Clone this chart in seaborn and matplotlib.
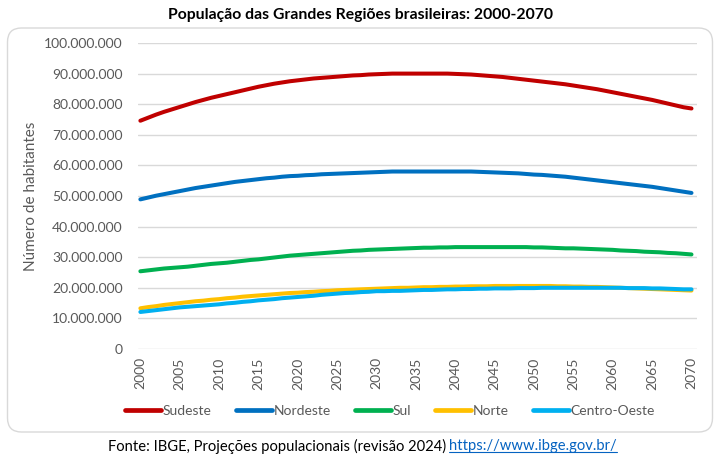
import matplotlib
matplotlib.use("Agg")
import matplotlib.pyplot as plt
import numpy as np
import pandas as pd
import seaborn as sns
from matplotlib.patches import FancyBboxPatch
from matplotlib.lines import Line2D
from matplotlib.transforms import IdentityTransform
from matplotlib.ticker import FuncFormatter

years = list(range(2000, 2071))

# values in millions of inhabitants
sudeste = [74.6, 75.6, 76.6, 77.5, 78.3, 79.1, 79.9, 80.7, 81.4, 82.1,
           82.7, 83.3, 83.9, 84.5, 85.1, 85.7, 86.2, 86.7, 87.1, 87.5,
           87.8, 88.1, 88.4, 88.6, 88.8, 89.0, 89.2, 89.4, 89.5, 89.7,
           89.8, 89.9, 90.0, 90.0, 90.0, 90.0, 90.0, 90.0, 90.0, 90.0,
           89.9, 89.8, 89.7, 89.5, 89.3, 89.1, 88.9, 88.6, 88.3, 88.0,
           87.7, 87.4, 87.1, 86.8, 86.5, 86.1, 85.7, 85.3, 84.9, 84.4,
           83.9, 83.4, 82.9, 82.4, 81.9, 81.4, 80.8, 80.2, 79.6, 79.0,
           78.6]
nordeste = [48.9, 49.5, 50.1, 50.6, 51.1, 51.6, 52.1, 52.6, 53.0, 53.4,
            53.8, 54.2, 54.6, 54.9, 55.2, 55.5, 55.8, 56.0, 56.3, 56.5,
            56.6, 56.8, 56.9, 57.1, 57.2, 57.3, 57.4, 57.5, 57.6, 57.7,
            57.8, 57.9, 58.0, 58.0, 58.0, 58.0, 58.0, 58.0, 58.0, 58.0,
            58.0, 58.0, 58.0, 57.9, 57.8, 57.7, 57.6, 57.5, 57.4, 57.2,
            57.0, 56.9, 56.7, 56.5, 56.3, 56.0, 55.7, 55.4, 55.1, 54.8,
            54.5, 54.2, 53.9, 53.6, 53.3, 53.0, 52.6, 52.2, 51.8, 51.4,
            51.0]
sul = [25.4, 25.7, 26.0, 26.3, 26.5, 26.7, 26.9, 27.2, 27.5, 27.8,
       28.0, 28.2, 28.5, 28.8, 29.1, 29.3, 29.6, 29.9, 30.2, 30.5,
       30.7, 30.9, 31.1, 31.3, 31.5, 31.7, 31.9, 32.1, 32.2, 32.4,
       32.5, 32.6, 32.7, 32.8, 32.9, 33.0, 33.1, 33.1, 33.2, 33.2,
       33.3, 33.3, 33.3, 33.3, 33.3, 33.3, 33.3, 33.3, 33.3, 33.3,
       33.2, 33.2, 33.1, 33.0, 32.9, 32.9, 32.8, 32.7, 32.6, 32.5,
       32.4, 32.2, 32.1, 32.0, 31.8, 31.7, 31.6, 31.4, 31.3, 31.1,
       30.9]
norte = [13.3, 13.7, 14.0, 14.4, 14.7, 15.0, 15.3, 15.6, 15.8, 16.1,
         16.3, 16.6, 16.8, 17.1, 17.3, 17.5, 17.7, 17.9, 18.1, 18.3,
         18.4, 18.6, 18.7, 18.9, 19.0, 19.2, 19.3, 19.4, 19.5, 19.6,
         19.7, 19.8, 19.9, 20.0, 20.0, 20.1, 20.2, 20.2, 20.3, 20.3,
         20.4, 20.4, 20.5, 20.5, 20.5, 20.6, 20.6, 20.6, 20.6, 20.6,
         20.6, 20.6, 20.6, 20.5, 20.5, 20.4, 20.4, 20.3, 20.3, 20.2,
         20.1, 20.0, 19.9, 19.8, 19.7, 19.6, 19.5, 19.4, 19.3, 19.2,
         19.1]
centro_oeste = [12.1, 12.4, 12.7, 13.0, 13.3, 13.6, 13.8, 14.0, 14.2, 14.4,
                14.6, 14.9, 15.1, 15.4, 15.6, 15.9, 16.1, 16.3, 16.6, 16.8,
                17.0, 17.2, 17.4, 17.7, 17.9, 18.1, 18.3, 18.4, 18.6, 18.7,
                18.9, 18.9, 19.0, 19.0, 19.1, 19.2, 19.3, 19.3, 19.4, 19.5,
                19.5, 19.6, 19.6, 19.7, 19.7, 19.8, 19.8, 19.8, 19.9, 19.9,
                19.9, 20.0, 20.0, 20.0, 20.0, 20.0, 20.0, 20.0, 20.0, 20.0,
                20.0, 20.0, 19.9, 19.9, 19.9, 19.8, 19.8, 19.7, 19.6, 19.5,
                19.5]

regions = ["Sudeste", "Nordeste", "Sul", "Norte", "Centro-Oeste"]
colors = ["#C00000", "#0070C0", "#00B050", "#FFC000", "#00B0F0"]
series = [sudeste, nordeste, sul, norte, centro_oeste]
x_ticks = list(range(2000, 2071, 5))
y_ticks = list(range(0, 100_000_001, 10_000_000))

df = pd.concat(
    [pd.DataFrame({"Ano": years, "Habitantes": np.array(v) * 1e6, "Região": r})
     for r, v in zip(regions, series)],
    ignore_index=True,
)

sns.set_theme(style="white")
plt.rcParams["font.family"] = ["Lato", "DejaVu Sans"]

W, H = 720, 457
fig = plt.figure(figsize=(W / 100, H / 100), dpi=100)

# rounded chart border
box = FancyBboxPatch((7.5, H - 432), 705, 404,
                     boxstyle="round,pad=0,rounding_size=14",
                     transform=IdentityTransform(), facecolor="white",
                     edgecolor="#D9D9D9", linewidth=1.0, zorder=-10)
fig.add_artist(box)

left, right, top, bottom = 138, 697, 43, 349
ax = fig.add_axes([left / W, 1 - bottom / H, (right - left) / W, (bottom - top) / H])
ax.set_facecolor("none")
ax.set_zorder(5)

sns.lineplot(data=df, x="Ano", y="Habitantes", hue="Região", hue_order=regions,
             palette=colors, linewidth=2.9, ax=ax, legend=False)

ax.set_xlim(1999.7, 2070.7)
ax.set_ylim(0, 100_000_000)
ax.set_xticks(x_ticks)
ax.set_xticklabels([str(t) for t in x_ticks], rotation=90)
ax.set_yticks(y_ticks)
ax.yaxis.set_major_formatter(FuncFormatter(lambda v, p: f"{int(v):,}".replace(",", ".")))
ax.yaxis.grid(True, color="#D9D9D9", linewidth=1.0)
ax.xaxis.grid(False)
ax.set_axisbelow(True)
for s in ax.spines.values():
    s.set_visible(False)
ax.tick_params(axis="y", length=0, pad=11, labelsize=10, labelcolor="#595959")
ax.tick_params(axis="x", length=0, pad=6, labelsize=10, labelcolor="#595959")
ax.set_xlabel("")
ax.set_ylabel("Número de habitantes", fontsize=11, color="#595959")
ax.yaxis.set_label_coords((38 - left) / (right - left), 0.5)

fig.text(361 / W, 1 - 15 / H, "População das Grandes Regiões brasileiras: 2000-2070",
         ha="center", va="center", fontsize=11.3, fontweight="bold", color="black")

handles = [Line2D([], [], color=c, linewidth=3.4) for c in colors]
fig.legend(handles, regions, loc="center", bbox_to_anchor=(390 / W, 1 - 411 / H),
           ncol=5, frameon=False, handlelength=2.6, handletextpad=0.1,
           columnspacing=1.75, fontsize=10, labelcolor="#595959")

t1 = fig.text(446 / W, 1 - 446 / H, "Fonte: IBGE, Projeções populacionais (revisão 2024)",
              ha="right", va="center", fontsize=10.6, color="black")
t2 = fig.text(449 / W, 1 - 446 / H, "https://www.ibge.gov.br/",
              ha="left", va="center", fontsize=10.6, color="#0563C1")
fig.canvas.draw()
bb = t2.get_window_extent()
uy = bb.y0 + 1.5
fig.add_artist(Line2D([bb.x0 / W, bb.x1 / W], [uy / H, uy / H], color="#0563C1",
                      linewidth=0.8, transform=fig.transFigure))

fig.savefig("out.png", dpi=100)
